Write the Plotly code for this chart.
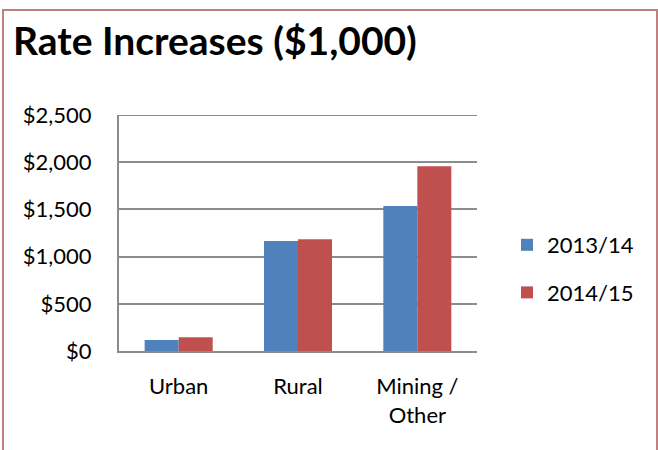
import plotly.graph_objects as go

categories = ["Urban", "Rural", "Mining /<br>Other"]
series_names = ["2013/14", "2014/15"]
values_2013 = [116, 1165, 1536]
values_2014 = [145, 1183, 1956]
y_ticks = [0, 500, 1000, 1500, 2000, 2500]
y_tick_labels = ["$0", "$500", "$1,000", "$1,500", "$2,000", "$2,500"]

colors = ["#4F81BD", "#C0504D"]
FONT = "Lato"
GRID = "#8C8C8C"

W, H = 658, 450
L, R, T, B = 119, 477, 115, 351
Y_MAX = y_ticks[-1]

def px_x(x):
    return (x - L) / (R - L)

def px_y(y):
    return (B - y) / (B - T)

fig = go.Figure()
for i, (name, vals) in enumerate(zip(series_names, [values_2013, values_2014])):
    fig.add_trace(go.Bar(
        x=categories, y=vals, name=name,
        marker=dict(color=colors[i], line=dict(width=0)),
        legendgroup=name,
    ))

fig.update_layout(
    width=W, height=H,
    margin=dict(l=L, r=W - R, t=T, b=H - B),
    paper_bgcolor="white", plot_bgcolor="white",
    barmode="group", bargap=0.43, bargroupgap=0,
    font=dict(family=FONT, size=22, color="black"),
    title=dict(
        text="Rate Increases ($1,000)",
        font=dict(family=FONT, size=39, weight="bold", color="black"),
        xref="container", x=13 / W, xanchor="left",
        yref="container", y=1 - 28 / H, yanchor="top",
    ),
    showlegend=True,
    legend=dict(
        x=px_x(507), y=px_y(224), xanchor="left", yanchor="top",
        font=dict(family=FONT, size=22, color="black"),
        tracegroupgap=16, bgcolor="rgba(0,0,0,0)", itemwidth=30,
    ),
    xaxis=dict(
        showgrid=False, showline=True, linecolor=GRID, linewidth=2,
        ticks="", ticklabelstandoff=15,
        tickfont=dict(family=FONT, size=22, color="black"),
    ),
    yaxis=dict(
        range=[0, Y_MAX], tickvals=y_ticks, ticktext=y_tick_labels,
        showgrid=True, gridcolor=GRID, gridwidth=2,
        showline=True, linecolor=GRID, linewidth=2,
        ticks="", ticklabelstandoff=21, zeroline=False,
        tickfont=dict(family=FONT, size=22, color="black"),
    ),
    shapes=[
        dict(
            type="rect", xref="paper", yref="paper",
            x0=px_x(3), x1=px_x(657), y0=px_y(470), y1=px_y(10),
            line=dict(color="#C0807F", width=2), fillcolor="rgba(0,0,0,0)",
            layer="below",
        ),
        dict(
            type="line", xref="paper", yref="y",
            x0=0, x1=1, y0=Y_MAX, y1=Y_MAX,
            line=dict(color=GRID, width=2), layer="below",
        ),
    ],
)

fig.write_html(
    "out.html",
    config={"displayModeBar": False},
    post_script="document.body.style.margin='0';document.body.style.overflow='hidden';",
)
